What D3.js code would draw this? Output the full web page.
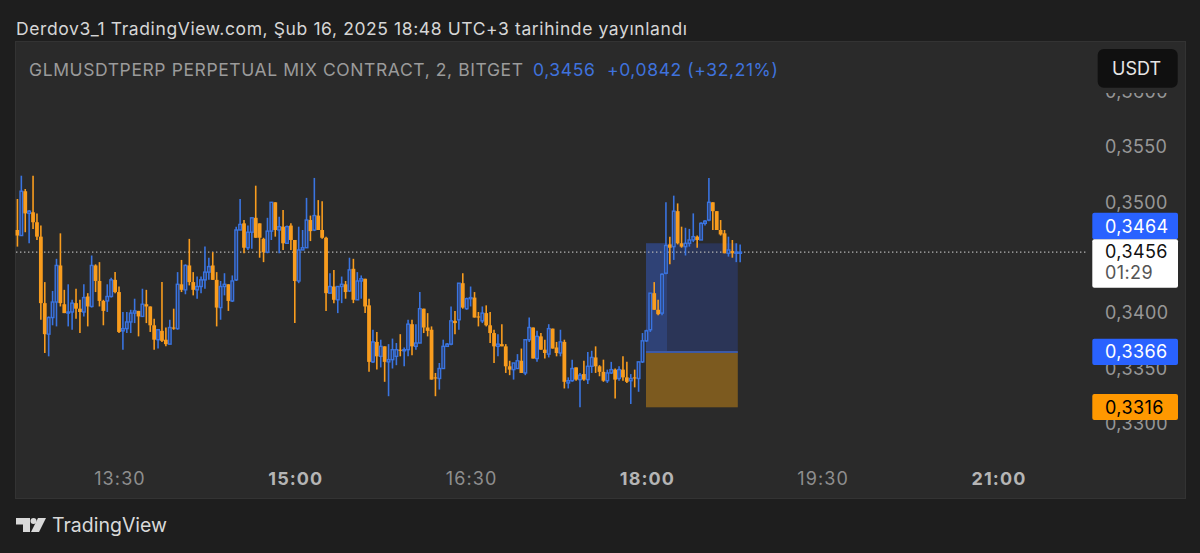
<!DOCTYPE html>
<html>
<head>
<meta charset="utf-8">
<script src="https://cdn.jsdelivr.net/npm/d3@7"></script>
<style>
  html, body { margin: 0; padding: 0; background: #1e1e1e; overflow: hidden; }
  text { font-family: Inter, "Noto Sans", sans-serif; }
</style>
</head>
<body>
<div id="chart"></div>
<script>
// prices are kept in ticks of 0.0001
const open = [3476,3471,3511,3491,3492,3483,3470,3410,3382,3397,3411,3444,3409,3401,3402,3410,3405,3402,3416,3407,3444,3430,3412,3412,3416,3431,3420,3385,3387,3393,3401,3403,3398,3409,3407,3390,3377,3385,3377,3373,3388,3387,3427,3422,3444,3429,3422,
  3425,3431,3438,3444,3431,3406,3425,3427,3412,3431,3476,3482,3460,3474,3487,3482,3468,3456,3475,3501,3476,3479,3464,3480,3467,3430,3458,3460,3485,3476,3489,3476,3469,3419,3425,3413,3425,3427,3421,3441,3413,3430,3432,
  3408,3357,3375,3362,3371,3357,3359,3362,3368,3367,3368,3391,3371,3374,3405,3388,3386,3343,3342,3351,3371,3373,3394,3395,3428,3405,3414,3415,3398,3394,3401,3390,3383,3371,3373,3371,3353,3350,3351,3358,3347,3377,3388,3360,3380,3368,3364,3387,3370,
  3365,3375,3338,3340,3352,3341,3346,3341,3353,3361,3353,3348,3340,3347,3350,3342,3350,3343,3340,3343,3342,3357,3376,3386,3419,3404,3401,3437,3463,3461,3493,3464,3461,3464,3467,3470,3467,3482,3485,3501,3493,3476,3473,3455,3457,3455,3455];
const high = [3504,3525,3513,3494,3525,3491,3480,3429,3398,3421,3450,3473,3422,3427,3413,3423,3413,3427,3419,3453,3445,3447,3413,3427,3433,3438,3425,3402,3402,3404,3414,3403,3423,3422,3407,3396,3386,3429,3388,3395,3405,3438,3449,3445,3468,3438,3434,
  3434,3461,3451,3456,3438,3430,3437,3427,3435,3479,3504,3485,3480,3487,3516,3482,3469,3487,3501,3501,3488,3494,3480,3482,3467,3479,3476,3505,3489,3523,3503,3502,3470,3437,3440,3425,3434,3430,3451,3450,3438,3435,3432,
  3414,3386,3384,3377,3371,3373,3378,3374,3382,3370,3395,3395,3391,3420,3405,3401,3389,3347,3356,3377,3374,3407,3403,3428,3437,3415,3425,3420,3402,3407,3408,3402,3386,3382,3391,3373,3358,3356,3364,3369,3377,3397,3388,3385,3383,3377,3391,3387,3375,
  3386,3377,3343,3359,3352,3347,3358,3366,3367,3371,3354,3359,3350,3357,3351,3353,3362,3357,3346,3350,3357,3383,3386,3419,3429,3413,3437,3501,3470,3507,3500,3479,3478,3477,3491,3471,3483,3485,3523,3501,3493,3485,3476,3470,3467,3464,3463];
const low = [3461,3471,3474,3464,3477,3467,3395,3365,3362,3390,3389,3407,3401,3389,3386,3396,3383,3398,3389,3406,3420,3407,3390,3402,3415,3419,3383,3368,3383,3383,3392,3380,3398,3392,3384,3368,3369,3375,3371,3373,3386,3386,3420,3418,3426,3417,3414,
  3419,3423,3431,3431,3389,3395,3417,3403,3411,3430,3476,3455,3458,3459,3469,3451,3447,3455,3467,3470,3455,3458,3464,3458,3392,3428,3458,3460,3466,3475,3476,3468,3403,3419,3410,3401,3410,3414,3420,3410,3413,3414,3401,
  3348,3356,3350,3352,3339,3326,3351,3354,3362,3353,3362,3363,3368,3374,3383,3380,3341,3326,3332,3351,3371,3372,3382,3386,3405,3404,3407,3397,3389,3392,3389,3374,3356,3362,3371,3347,3345,3341,3351,3347,3345,3375,3360,3357,3368,3360,3361,3369,3362,
  3362,3333,3333,3339,3340,3316,3340,3337,3347,3347,3344,3339,3338,3346,3324,3340,3340,3338,3319,3334,3330,3356,3375,3384,3404,3399,3399,3436,3445,3449,3463,3460,3453,3461,3465,3460,3467,3480,3484,3476,3476,3471,3455,3452,3451,3447,3447];
const close = [3471,3511,3491,3493,3483,3470,3410,3382,3397,3411,3444,3410,3401,3402,3410,3405,3402,3415,3407,3444,3430,3412,3403,3416,3431,3420,3384,3387,3393,3401,3403,3398,3409,3407,3390,3377,3386,3376,3373,3388,3387,3427,3422,3444,3429,3422,3425,
  3431,3438,3443,3431,3406,3425,3427,3412,3430,3476,3481,3460,3474,3487,3469,3469,3456,3475,3501,3476,3479,3464,3479,3467,3430,3458,3460,3485,3475,3489,3476,3469,3419,3425,3413,3425,3427,3420,3440,3413,3430,3432,3407,
  3357,3375,3362,3371,3357,3359,3368,3368,3367,3368,3391,3371,3374,3405,3388,3385,3341,3342,3351,3371,3373,3394,3392,3428,3406,3414,3415,3397,3397,3401,3390,3383,3371,3373,3371,3353,3350,3356,3358,3347,3377,3388,3360,3380,3368,3365,3387,3369,3365,
  3375,3339,3340,3351,3341,3345,3341,3353,3361,3353,3348,3340,3347,3350,3341,3350,3343,3339,3342,3342,3357,3376,3385,3419,3404,3400,3436,3462,3460,3493,3464,3461,3464,3467,3470,3467,3482,3484,3501,3493,3476,3472,3455,3458,3455,3456,3456];

const priceTicks = [3300, 3350, 3400, 3500, 3550, 3600];
const timeTicks = ["13:30", "15:00", "16:30", "18:00", "19:30", "21:00"];
const boldTimes = ["15:00", "18:00", "21:00"];
const target = 3464, entry = 3366, stop = 3316, last = 3456;

const fmtLocale = d3.formatLocale({ decimal: ",", thousands: ".", grouping: [3], currency: ["", ""] });
const fmtPrice = v => fmtLocale.format(".4f")(v / 10000);
const at = s => new Date(Date.UTC(2025, 1, 16, +s.slice(0, 2), +s.slice(3)));

const width = 1200, height = 553;
const svg = d3.select("#chart").append("svg")
  .attr("width", width).attr("height", height).style("display", "block");

const x = d3.scaleUtc().domain([at("13:30"), at("21:00")]).range([119, 998]);
const y = d3.scaleLinear().domain([stop, target]).range([407.3, 243.3]);
const times = open.map((d, i) => new Date(at("12:38").getTime() + i * 120000));

// panel
svg.append("rect").attr("x", 15.5).attr("y", 41.5).attr("width", 1170).attr("height", 457)
  .attr("fill", "#2a2a2a").attr("stroke", "#333333");

// top line
svg.append("text").attr("x", 16).attr("y", 34.5).attr("font-size", 17.5).attr("fill", "#d6d6d6")
  .style("letter-spacing", "0.6px")
  .text("Derdov3_1 TradingView.com, Şub 16, 2025 18:48 UTC+3 tarihinde yayınlandı");

// legend
const legend = svg.append("text").attr("y", 76).attr("font-size", 17.5).style("letter-spacing", "0.6px");
legend.append("tspan").attr("x", 29).attr("fill", "#9b9b9b").text("GLMUSDTPERP PERPETUAL MIX CONTRACT, 2, BITGET");
legend.append("tspan").attr("x", 533).attr("fill", "#3f72dc").text("0,3456");
legend.append("tspan").attr("x", 607).attr("fill", "#3f72dc").text("+0,0842 (+32,21%)");

// long position tool
const posR = 737.8;
svg.append("rect").attr("x", 646).attr("y", y(target)).attr("width", posR - 646).attr("height", y(entry) - y(target))
  .attr("fill", "#2b3557");
svg.append("rect").attr("x", 646).attr("y", y(target)).attr("width", 21).attr("height", y(entry) - y(target))
  .attr("fill", "#2f4276");
svg.append("rect").attr("x", 646).attr("y", y(entry)).attr("width", posR - 646).attr("height", y(stop) - y(entry))
  .attr("fill", "#7c5a1f");
svg.append("line").attr("x1", 646).attr("x2", posR).attr("y1", y(entry)).attr("y2", y(entry))
  .attr("stroke", "#3d5aa6").attr("stroke-width", 2);

// last price line
svg.append("line").attr("x1", 16).attr("x2", 1088).attr("y1", y(last)).attr("y2", y(last))
  .attr("stroke", "#b4b4b4").attr("stroke-width", 1.4).attr("stroke-dasharray", "1.4 2.6");

// candles
const blue = "#3a74e0", orange = "#f89c1e";
const candles = svg.append("g").selectAll("g").data(times).join("g");
candles.append("line")
  .attr("x1", d => x(d)).attr("x2", d => x(d))
  .attr("y1", (d, i) => y(high[i])).attr("y2", (d, i) => y(low[i]))
  .attr("stroke", (d, i) => close[i] >= open[i] ? blue : orange).attr("stroke-width", 1.6);
candles.append("rect")
  .attr("x", (d, i) => x(d) - (close[i] >= open[i] ? 1.3 : 1.9))
  .attr("width", (d, i) => close[i] >= open[i] ? 2.6 : 3.8)
  .attr("y", (d, i) => y(Math.max(open[i], close[i])))
  .attr("height", (d, i) => Math.max(1, Math.abs(y(open[i]) - y(close[i]))))
  .attr("fill", (d, i) => close[i] >= open[i] ? "#2d3a5e" : orange)
  .attr("stroke", (d, i) => close[i] >= open[i] ? blue : "none").attr("stroke-width", 1.4);

// price axis, the top label gets cut off under the legend strip
svg.append("clipPath").attr("id", "axis-clip").append("rect")
  .attr("x", 1090).attr("y", 93).attr("width", 95).attr("height", 400);
const yAxis = svg.append("g").attr("clip-path", "url(#axis-clip)").append("g")
  .attr("transform", "translate(1105,-1)")
  .call(d3.axisRight(y).tickValues(priceTicks).tickFormat(fmtPrice).tickSize(0).tickPadding(0));
yAxis.select(".domain").remove();
yAxis.selectAll("text").attr("font-size", 18).attr("fill", "#979797").attr("font-family", "Inter").style("letter-spacing", "0.4px");

// time axis
const xAxis = svg.append("g")
  .attr("transform", "translate(0.5,472)")
  .call(d3.axisBottom(x).tickValues(timeTicks.map(at)).tickFormat(d3.utcFormat("%H:%M")).tickSize(0).tickPadding(0));
xAxis.select(".domain").remove();
xAxis.selectAll("text").attr("font-size", 18).attr("font-family", "Inter").style("letter-spacing", "1.1px")
  .attr("fill", d => boldTimes.includes(d3.utcFormat("%H:%M")(d)) ? "#b5b5b5" : "#8e8e8e")
  .attr("font-weight", d => boldTimes.includes(d3.utcFormat("%H:%M")(d)) ? 700 : 400);

// price labels
const tags = [
  { top: 212.7, h: 26.6, fill: "#2962ff", color: "#ffffff", value: target },
  { top: 338.7, h: 26.3, fill: "#2962ff", color: "#ffffff", value: entry },
  { top: 394, h: 26, fill: "#ff9800", color: "#000000", value: stop }
];
const tag = svg.append("g").selectAll("g").data(tags).join("g");
tag.append("rect").attr("x", 1092.3).attr("y", d => d.top).attr("width", 85.7).attr("height", d => d.h)
  .attr("rx", 2).attr("fill", d => d.fill);
tag.append("text").attr("x", 1105).attr("y", d => d.top + d.h / 2 + 6.5).attr("font-size", 18)
  .style("letter-spacing", "0.4px").attr("fill", d => d.color).text(d => fmtPrice(d.value));

svg.append("rect").attr("x", 1092.3).attr("y", 239.3).attr("width", 85.7).attr("height", 48.4)
  .attr("rx", 2).attr("fill", "#ffffff");
svg.append("text").attr("x", 1105).attr("y", 258).attr("font-size", 18).style("letter-spacing", "0.4px")
  .attr("fill", "#111111").text(fmtPrice(last));
svg.append("text").attr("x", 1105).attr("y", 279).attr("font-size", 18).style("letter-spacing", "0.4px")
  .attr("fill", "#555555").text("01:29");

// currency button
svg.append("rect").attr("x", 1097.7).attr("y", 49).attr("width", 80).attr("height", 38.7)
  .attr("rx", 6).attr("fill", "#101010");
svg.append("text").attr("x", 1136.5).attr("y", 74.5).attr("text-anchor", "middle").attr("font-size", 18)
  .attr("fill", "#e6e6e6").text("USDT");

// logo
const logo = svg.append("g").attr("fill", "#d9d9d9");
logo.append("path").attr("d", "M16 518H30V532H23V524.5H16Z");
logo.append("circle").attr("cx", 33.5).attr("cy", 521).attr("r", 3);
logo.append("path").attr("d", "M38 518H46L39 532H31Z");
svg.append("text").attr("x", 52).attr("y", 531.5).attr("font-size", 19.5).attr("fill", "#d9d9d9").text("TradingView");
</script>
</body>
</html>
